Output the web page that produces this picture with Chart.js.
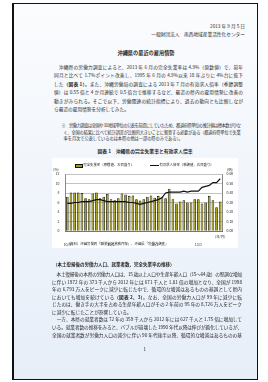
<!DOCTYPE html>
<html lang="ja">
<head>
<meta charset="utf-8">
<script src="https://cdn.jsdelivr.net/npm/chart.js@4.4.0/dist/chart.umd.min.js"></script>
<style>
  html, body { margin: 0; padding: 0; background: #fff; }
  body { width: 268px; height: 382px; position: relative; overflow: hidden;
         font-family: "Noto Sans CJK JP", sans-serif; color: #2a2a2a; }
  .page { position: absolute; left: 12px; top: 3px; width: 243px; height: 375px;
          border: 1.5px solid #111; border-left-width: 2px;
          background: linear-gradient(#fbfcfe, #e6eef8); }
  .t { position: absolute; white-space: nowrap; line-height: 1; }
  .ln { position: absolute; white-space: nowrap; line-height: 1; }
  .ln.full { text-align: justify; text-align-last: justify; }
  .box { position: absolute; left: 52px; top: 158px; width: 186px; height: 90px; background: #fff; }
  #chart { position: absolute; left: 52px; top: 158px; }
  .sw { position: absolute; left: 75px; top: 163.5px; width: 6px; height: 2.6px;
        background: #a59d14; border: 0.5px solid #111; }
  .lk { position: absolute; left: 149.5px; top: 164.5px; width: 9px; border-top: 1px solid #111; }
</style>
</head>
<body>
<div class="page"></div>

<div class="t" style="right:23px; top:24.4px; font-size:4.7px;">2013 年 9 月 5 日</div>
<div class="t" style="right:23px; top:31.7px; font-size:4.7px;">一般財団法人　南西地域産業活性化センター</div>
<div class="t" style="left:0; width:292px; text-align:center; top:50px; font-size:5.2px; font-weight:bold;">沖縄県の最近の雇用情勢</div>

<div id="para1"></div>
<div id="note"></div>

<div class="t" style="left:0; width:290px; text-align:center; top:149.1px; font-size:4.8px; font-weight:bold;">図表 1　沖縄県の完全失業率と有効求人倍率</div>

<div class="box"></div>
<canvas id="chart" width="186" height="90"></canvas>
<div class="sw"></div>
<div class="t" style="left:83.3px; top:163.3px; font-size:3.4px;">完全失業率（原数値、左目盛り）</div>
<div class="lk"></div>
<div class="t" style="left:159.5px; top:163.3px; font-size:3.4px;">有効求人倍率（季調値、右目盛り）</div>
<div class="t" style="left:53.3px; top:167.8px; font-size:3.4px;">(%)</div>
<div class="t" style="left:227px; top:167.8px; font-size:3.4px;">(倍)</div>
<div class="t" style="left:215px; top:235.3px; font-size:3.4px;">(年/月)</div>
<div class="t" style="left:66.7px; top:241.8px; font-size:3.4px;">（資料）沖縄労働局「職業安定業務月報」、沖縄県「労働力調査」</div>

<div class="t" style="left:53px; top:262px; font-size:4.5px; font-weight:bold;">（本土復帰後の労働力人口、就業者数、完全失業率の推移）</div>
<div id="para2"></div>

<div class="t" style="left:143.5px; top:347px; font-size:4.5px;">1</div>

<script>
// category labels: 2010/1 - 2013/7
const years = [10, 11, 12, 13];
const lastMonth = [12, 12, 12, 7];
const months = [];
years.forEach((y, k) => {
    for (let m = 1; m <= lastMonth[k]; m++) months.push(y + '/' + m);
});

// 完全失業率（原数値、%）
const unemployment = [
    7.2, 8.1, 8.1, 8.1, 8.0, 6.9, 6.7, 7.9, 8.1, 6.9, 7.2, 7.8,
    6.7, 6.5, 6.9, 7.9, 7.7, 7.4, 7.5, 6.7, 6.4, 6.7, 7.2, 7.5,
    7.0, 7.4, 7.2, 6.9, 8.9, 6.7, 5.8, 6.2, 6.5, 6.0, 6.0, 6.7,
    6.7, 5.8, 6.0, 7.4, 6.5, 5.0, 6.2
];

// 有効求人倍率（季節調整値、倍）
const jobRatio = [
    0.29, 0.29, 0.30, 0.30, 0.31, 0.31, 0.31, 0.32, 0.33, 0.33, 0.32, 0.31,
    0.31, 0.31, 0.31, 0.31, 0.31, 0.30, 0.30, 0.29, 0.28, 0.29, 0.30, 0.31,
    0.32, 0.33, 0.35, 0.40, 0.41, 0.41, 0.41, 0.41, 0.42, 0.41, 0.42, 0.42,
    0.42, 0.46, 0.47, 0.48, 0.51, 0.51, 0.55
];

const leftTicks = [0, 2, 4, 6, 8, 10, 12];
const rightTicks = [0, 0.1, 0.2, 0.3, 0.4, 0.5, 0.6];

// page text, one entry per printed line
const para1 = [
    '　沖縄県の労働力調査によると、2013 年 6 月の完全失業率は 4.9%（原数値）で、前年',
    '同月と比べて 1.7%ポイント改善し、1995 年 6 月の 4.9%以来 18 年ぶりに 4%台に低下',
    'した<b>（図表 1）</b>。また、沖縄労働局の調査による 2013 年 7 月の有効求人倍率（季節調整',
    '値）は 0.55 倍と 4 か月連続で 0.5 倍台で推移するなど、最近の県内の雇用情勢に改善の',
    '動きがみられる。そこで以下、労働関連の統計指標により、過去の動向とも比較しなが',
    'ら最近の雇用情勢を分析してみた。'
];
const note = [
    '※　労働力調査は全国や 10 地域単位の公表を前提にしていたため、都道府県単位の推計値は標本数が少な',
    'く、全国の結果に比べて統計誤差が比較的大きいことに留意する必要がある（都道府県単位で失業',
    '率を月次で公表しているのは本県の他は一部の県のみである）。'
];
const para2 = [
    '　本土復帰後の本県の労働力人口は、15 歳以上人口や生産年齢人口（15～64 歳）の堅調な増加',
    'に伴い 1972 年の 373 千人から 2012 年には 671 千人と 1.81 倍の増加となり、全国が 1998',
    '年の 6,793 万人をピークに減少に転じた中で、循環的な増減はあるものの基調として県内',
    'においても増加を続けている<b>（図表 2、3）</b>。なお、全国の労働力人口が 99 年に減少に転',
    'じたのは、働き手の大半を占める生産年齢人口がその 2 年前の 95 年の 8,726 万人をピーク',
    'に減少に転じたことが影響している。',
    '　一方、本県の就業者数は 72 年の 359 千人から 2012 年には 627 千人と 1.75 倍に増加して',
    'いる。就業者数の推移をみると、バブルが崩壊した 1990 年代以降は伸びが鈍化しているが、',
    '全国の就業者数が労働力人口の減少に伴い 90 年代後半以降、循環的な増減はあるものの基'
];

function addLines(holder, lines, left, width, top0, step, size, opt) {
    const el = document.getElementById(holder);
    lines.forEach((txt, i) => {
        const d = document.createElement('div');
        const ind = (i > 0 && opt.indent) ? opt.indent : 0;
        d.className = 'ln';
        d.style.left = (left + ind) + 'px';
        d.style.width = (width - ind) + 'px';
        d.style.top = (top0 + step * i - size / 2) + 'px';
        d.style.fontSize = size + 'px';
        d.innerHTML = '<span>' + txt + '</span>';
        el.appendChild(d);
        const w = width - ind;
        const natural = d.firstChild.getBoundingClientRect().width;
        if (natural > w) {
            d.style.letterSpacing = ((w - natural) / txt.replace(/<[^>]+>/g, '').length) + 'px';
        }
        if (!opt.short.includes(i)) d.classList.add('full');
    });
}

function layoutText() {
    addLines('para1', para1, 54, 189, 67, 8.5, 4.7, { short: [5] });
    addLines('note', note, 61.5, 179, 125.3, 6.5, 4.2, { short: [2], indent: 2 });
    addLines('para2', para2, 52, 190, 274.5, 7.55, 4.7, { short: [5] });
}

if (document.fonts && document.fonts.ready) {
    document.fonts.ready.then(layoutText);
} else {
    layoutText();
}

const fam = '"Noto Sans CJK JP", sans-serif';
const ctx = document.getElementById('chart');

new Chart(ctx, {
    type: 'bar',
    data: {
        labels: months,
        datasets: [{
            type: 'line',
            label: '有効求人倍率（季調値、右目盛り）',
            data: jobRatio,
            yAxisID: 'y1',
            borderColor: '#111',
            borderWidth: 1.2,
            pointRadius: 0,
            tension: 0,
            order: 0
        }, {
            type: 'bar',
            label: '完全失業率（原数値、左目盛り）',
            data: unemployment,
            yAxisID: 'y',
            backgroundColor: '#a59d14',
            borderColor: '#151500',
            borderWidth: 0.8,
            categoryPercentage: 0.8,
            barPercentage: 0.9,
            order: 1
        }]
    },
    options: {
        responsive: false,
        animation: false,
        layout: { padding: { top: 16, left: 0, right: 0, bottom: 0 } },
        plugins: {
            legend: { display: false },
            tooltip: { enabled: false }
        },
        scales: {
            x: {
                grid: { display: false },
                border: { display: true, color: '#555', width: 0.7 },
                ticks: {
                    autoSkip: false,
                    maxRotation: 0,
                    padding: 3,
                    color: '#333',
                    font: { size: 3.6, family: fam },
                    callback: (v, i) => months[i].split('/')[1] === '1' ? months[i] : ''
                },
                afterFit: (s) => { s.height = 17; }
            },
            y: {
                position: 'left',
                min: leftTicks[0],
                max: leftTicks[leftTicks.length - 1],
                afterBuildTicks: (s) => { s.ticks = leftTicks.map(v => ({ value: v })); },
                grid: { color: '#9a9a9a', lineWidth: 0.6, drawTicks: false },
                border: { display: true, color: '#555', width: 0.7 },
                ticks: { padding: 6, color: '#333', font: { size: 3.5, family: fam } },
                afterFit: (s) => { s.width = 13.5; }
            },
            y1: {
                position: 'right',
                min: rightTicks[0],
                max: rightTicks[rightTicks.length - 1],
                afterBuildTicks: (s) => { s.ticks = rightTicks.map(v => ({ value: v })); },
                grid: { display: false, drawTicks: false },
                border: { display: true, color: '#555', width: 0.7 },
                ticks: {
                    padding: 4.5,
                    color: '#333',
                    font: { size: 3.5, family: fam },
                    callback: (v) => Number(v).toFixed(2)
                },
                afterFit: (s) => { s.width = 16; }
            }
        }
    }
});
</script>
</body>
</html>
